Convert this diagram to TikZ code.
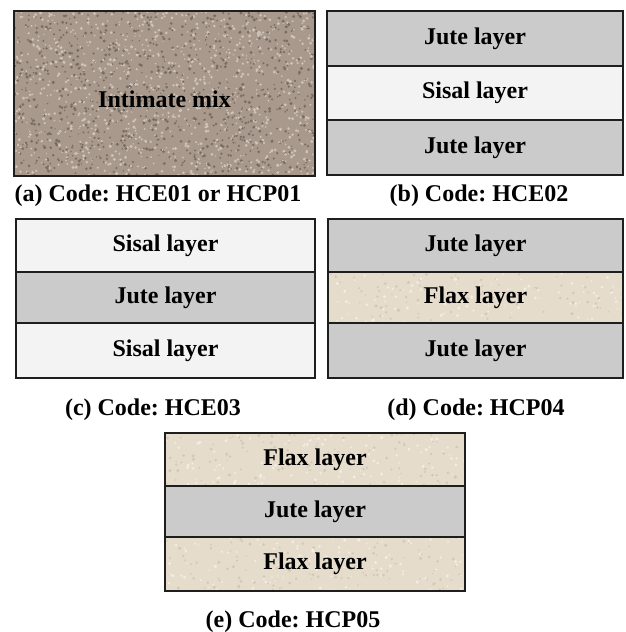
\documentclass[tikz,border=0pt]{standalone}
\usepackage{fontspec}
\setmainfont{Liberation Serif}
\frenchspacing
\usepackage{tikz}
\usetikzlibrary{positioning}
\definecolor{jutegray}{HTML}{CBCBCB}
\definecolor{sisalwhite}{HTML}{F3F3F3}
\definecolor{flaxbeige}{HTML}{E6DCCC}
\definecolor{flaxdark}{HTML}{D4C8B7}
\definecolor{flaxlight}{HTML}{F3EDE3}
\definecolor{mixbrown}{HTML}{A8998C}
\definecolor{mixdark}{HTML}{7A6D64}
\definecolor{mixlight}{HTML}{CFC4B8}
\definecolor{edge}{HTML}{1E1E1E}
\tikzset{
  grain/.style n args={4}{path picture={
    \foreach \k in {1,...,#1}{
      \fill[#2] ([shift={(152*rand,#4*rand)}]path picture bounding box.center) circle[radius=0.7pt+1pt*rnd];
      \fill[#3] ([shift={(152*rand,#4*rand)}]path picture bounding box.center) circle[radius=0.7pt+1pt*rnd];
    }}},
  layer/.style={rectangle, draw=edge, line width=1.4pt, inner sep=0pt, outer sep=0pt,
    font=\bfseries\fontsize{24}{28}\selectfont},
  jute/.style={layer, fill=jutegray},
  sisal/.style={layer, fill=sisalwhite},
  flax/.style={layer, fill=flaxbeige, grain={110}{flaxdark}{flaxlight}{27}},
  caption/.style={anchor=base, font=\bfseries\fontsize{24}{28}\selectfont}
}

\begin{document}
\begin{tikzpicture}[x=1pt, y=-1pt]
  \pgfmathsetseed{7}
  \useasboundingbox (0,0) rectangle (625,632);
  % (a) intimate mix
  \node[layer, fill=mixbrown, grain={1000}{mixdark}{mixlight}{84}, text height=28pt,
    minimum width=301pt, minimum height=165pt] (mix) at (164.5,93.5) {Intimate mix};
  \node[caption] (capa) at (158,201) {(a) Code: HCE01 or HCP01};
  % (b) jute / sisal / jute
  \begin{scope}[every node/.append style={minimum width=296pt}]
  \node[jute, minimum height=55pt, anchor=north] (b1) at (475,11) {Jute layer};
  \node[sisal, minimum height=54pt, below=0pt of b1] (b2) {Sisal layer};
  \node[jute, minimum height=55pt, below=0pt of b2] (b3) {Jute layer};
  \end{scope}
  \node[caption] (capb) at (479,201) {(b) Code: HCE02};
  % (c) sisal / jute / sisal
  \begin{scope}[every node/.append style={minimum width=299pt}]
  \node[sisal, minimum height=53pt, anchor=north] (c1) at (165.5,219) {Sisal layer};
  \node[jute, minimum height=51pt, below=0pt of c1] (c2) {Jute layer};
  \node[sisal, minimum height=55pt, below=0pt of c2] (c3) {Sisal layer};
  \end{scope}
  \node[caption] (capc) at (153,415) {(c) Code: HCE03};
  % (d) jute / flax / jute
  \begin{scope}[every node/.append style={minimum width=295pt}]
  \node[jute, minimum height=53pt, anchor=north] (d1) at (475.5,219) {Jute layer};
  \node[flax, minimum height=51pt, below=0pt of d1] (d2) {Flax layer};
  \node[jute, minimum height=55pt, below=0pt of d2] (d3) {Jute layer};
  \end{scope}
  \node[caption] (capd) at (476,415) {(d) Code: HCP04};
  % (e) flax / jute / flax
  \begin{scope}[every node/.append style={minimum width=300pt}]
  \node[flax, minimum height=53pt, anchor=north] (e1) at (315,433) {Flax layer};
  \node[jute, minimum height=51pt, below=0pt of e1] (e2) {Jute layer};
  \node[flax, minimum height=54pt, below=0pt of e2] (e3) {Flax layer};
  \end{scope}
  \node[caption] (cape) at (293,627) {(e) Code: HCP05};
\end{tikzpicture}
\end{document}
